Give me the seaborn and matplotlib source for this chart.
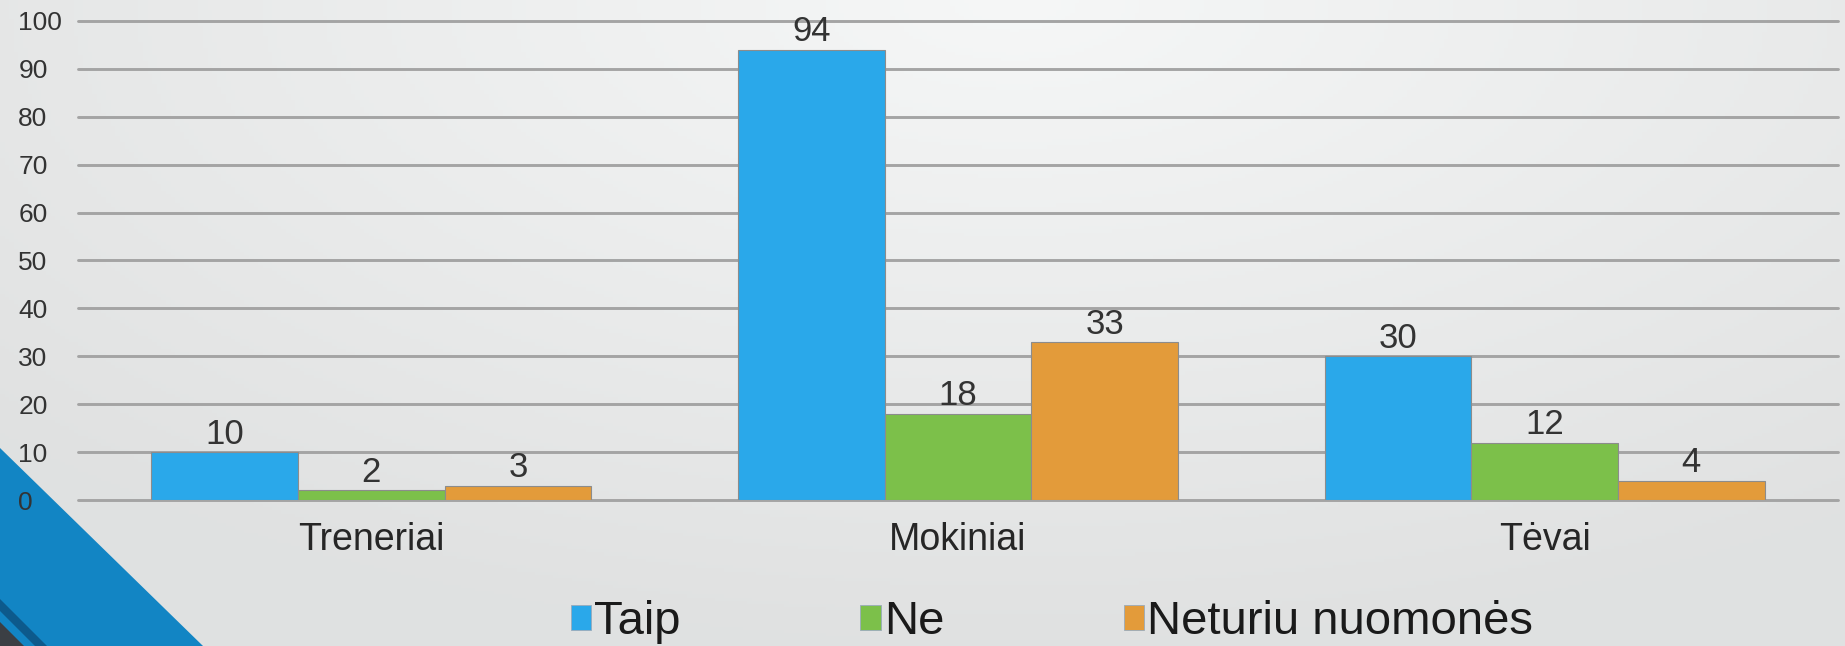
import numpy as np
import pandas as pd
import matplotlib
matplotlib.use("Agg")
import matplotlib.pyplot as plt
from matplotlib.patches import Polygon
import seaborn as sns

# ---- data ----
categories = ["Treneriai", "Mokiniai", "Tėvai"]
series = ["Taip", "Ne", "Neturiu nuomonės"]
taip = [10, 94, 30]
ne = [2, 18, 12]
neturiu = [3, 33, 4]
y_ticks = [0, 10, 20, 30, 40, 50, 60, 70, 80, 90, 100]
colors = ["#2aa8ea", "#7cc04a", "#e39b3a"]

rows = []
for s, vals in zip(series, [taip, ne, neturiu]):
    for c, v in zip(categories, vals):
        rows.append({"cat": c, "series": s, "val": v})
df = pd.DataFrame(rows)

sns.set_style("white")
plt.rcParams["font.family"] = ["Liberation Sans", "DejaVu Sans"]

W, H = 1845, 646
fig = plt.figure(figsize=(W / 100, H / 100), dpi=100)

# background gradient
bg = fig.add_axes([0, 0, 1, 1], zorder=-10)
yy, xx = np.mgrid[0:1:200j, 0:1:400j]
r = np.sqrt(((xx - 0.55) / 0.75) ** 2 + (yy / 1.0) ** 2)
g = (247 - 22 * np.clip(r, 0, 1)) / 255.0
img = np.dstack([g * 0.995, g, g])
bg.imshow(img, extent=[0, 1, 1, 0], aspect="auto")
bg.set_xlim(0, 1)
bg.set_ylim(1, 0)
bg.axis("off")

def fp(x, y):
    return (x / W, 1 - y / H)

bg.add_patch(Polygon([fp(0, 448), fp(203, 646), fp(0, 646)], closed=True,
                     facecolor="#1285c4", edgecolor="none", transform=fig.transFigure))
bg.add_patch(Polygon([fp(0, 599), fp(47, 646), fp(35, 646), fp(0, 611)], closed=True,
                     facecolor="#0d5a8c", edgecolor="none", transform=fig.transFigure))
bg.add_patch(Polygon([fp(0, 622), fp(24, 646), fp(0, 646)], closed=True,
                     facecolor="#3b3f44", edgecolor="none", transform=fig.transFigure))

# main axes
ax = fig.add_axes([78 / W, 1 - 500 / H, 1760 / W, (500 - 11.4) / H], zorder=1)
ax.set_facecolor("none")

sns.barplot(data=df, x="cat", y="val", hue="series", hue_order=series,
            order=categories, palette=colors, saturation=1, width=0.75,
            edgecolor="#8c8c8c", linewidth=0.8, ax=ax, legend=False, zorder=3)

for cont in ax.containers:
    ax.bar_label(cont, fmt="%d", padding=1, fontsize=25, color="#333333")

ax.set_xlim(-0.5, 2.5)
ax.set_ylim(0, 102)
ax.set_yticks(y_ticks)
ax.set_yticklabels([str(v) for v in y_ticks])
ax.grid(axis="y", color="#a4a4a4", linewidth=2.1, zorder=0)
ax.grid(axis="x", visible=False)
for gl in ax.get_ygridlines():
    gl.set_clip_on(False)
ax.set_axisbelow(True)
for sp in ax.spines.values():
    sp.set_visible(False)
ax.set_xlabel("")
ax.set_ylabel("")
ax.tick_params(axis="x", length=0, pad=16, labelsize=27, labelcolor="#262626")
ax.tick_params(axis="y", length=0, pad=43, labelsize=19, labelcolor="#333333")
for lab in ax.get_yticklabels():
    lab.set_ha("left")

handles = [matplotlib.patches.Patch(facecolor=c, edgecolor="#9ab", linewidth=0.6) for c in colors]
fig.legend(handles, series, loc="center", bbox_to_anchor=(1052 / W, 1 - 622 / H),
           ncol=3, frameon=False, fontsize=34, handlelength=0.43, handleheight=0.44,
           handletextpad=0.07, columnspacing=3.8, borderpad=0, borderaxespad=0,
           labelcolor="#1a1a1a")

fig.savefig("out.png", dpi=100)
